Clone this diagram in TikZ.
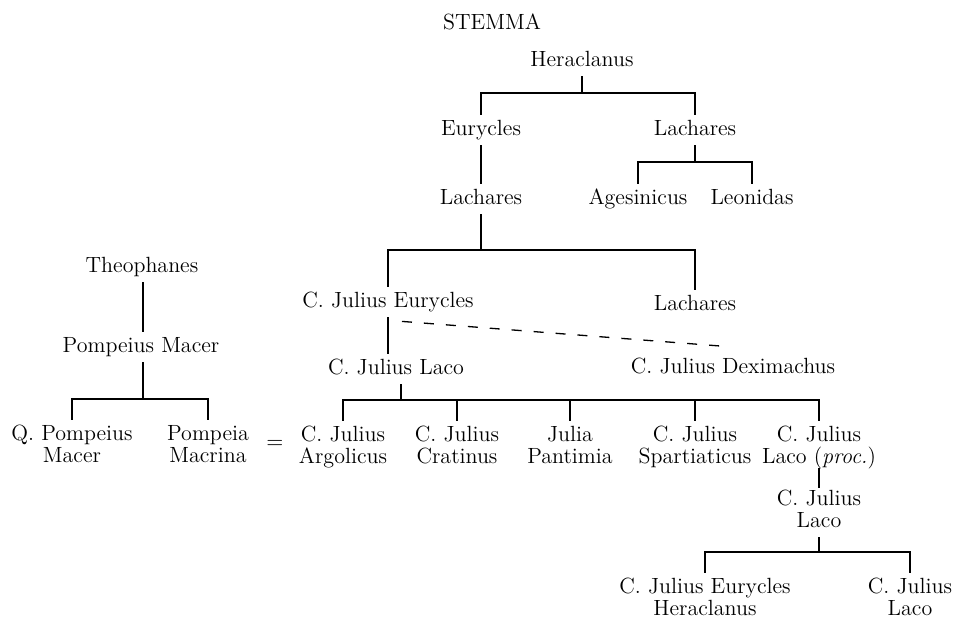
\documentclass[tikz,border=0pt]{standalone}
\usetikzlibrary{calc}
\begin{document}
\begin{tikzpicture}[x=0.5pt, y=-0.5pt,
    every node/.style={font=\fontsize{11}{11}\selectfont, text height=7pt, text depth=2pt, inner sep=3pt, align=center},
    two/.style={text height=18pt},
    link/.style={line width=0.65pt}]
    \useasboundingbox (0,0) rectangle (954,617);
    % Title
    \node (title) at (492,24) {STEMMA};
    % Heraclanus and his sons
    \node (her) at (582,61) {Heraclanus};
    \node (eur) at (481,130) {Eurycles};
    \node (lacA) at (695,130) {Lachares};
    \node (lacB) at (481,199) {Lachares};
    \node (age) at (638,199) {Agesinicus};
    \node (leo) at (752,199) {Leonidas};
    % Next generation
    \node (cje) at (388,302) {C. Julius Eurycles};
    \node (lacC) at (695,305) {Lachares};
    \node (cjl) at (396,369) {C. Julius Laco};
    \node (cjd) at (733,368) {C. Julius Deximachus};
    % Theophanes line
    \node (theo) at (142,267) {Theophanes};
    \node (pmac) at (141,347) {Pompeius Macer};
    \node[two] (qpm) at (72,446) {Q. Pompeius\\Macer};
    \node[two] (pomp) at (208,446) {Pompeia\\Macrina};
    \node (eq) at (275,443) {$=$};
    % Children of C. Julius Laco
    \node[two] (arg) at (343,447) {C. Julius\\Argolicus};
    \node[two] (crat) at (457,447) {C. Julius\\Cratinus};
    \node[two] (jul) at (570,447) {Julia\\Pantimia};
    \node[two] (spar) at (695,447) {C. Julius\\Spartiaticus};
    \node[two] (lproc) at (819,447) {C. Julius\\Laco (\textit{proc.})};
    \node[two] (cjl2) at (819,511) {C. Julius\\Laco};
    \node[two] (cjeh) at (705,599) {C. Julius Eurycles\\Heraclanus};
    \node[two] (cjl3) at (910,599) {C. Julius\\Laco};
    % Bars
    \coordinate (b1) at (582,93);
    \coordinate (b2) at (695,162);
    \coordinate (b3) at (481,250);
    \coordinate (b4) at (143,399);
    \coordinate (b5) at (401,400);
    \coordinate (b6) at (819,552);
    % Connectors
    \draw[link] (her) -- (b1);
    \draw[link] (eur.north) |- (b1) -| (lacA.north);
    \draw[link] (eur) -- (lacB);
    \draw[link] (lacA) -- (b2);
    \draw[link] (age.north) |- (b2) -| (leo.north);
    \draw[link] (lacB) -- (b3);
    \draw[link] (cje.north) |- (b3) -| (lacC.north);
    \draw[link] (cje.south) -- (cje.south |- cjl.north);
    \draw[link, dash pattern=on 5pt off 6pt] ($(cje.south)+(14,4)$) -- ($(cjd.north)+(-5,-6)$);
    \draw[link] (theo.south -| b4) -- (pmac.north -| b4);
    \draw[link] (pmac.south -| b4) -- (b4);
    \draw[link] (qpm.north) |- (b4) -| (pomp.north);
    \draw[link] (b5 |- cjl.south) -- (b5);
    \draw[link] (arg.north) |- (b5) -| (lproc.north);
    \foreach \c in {crat, jul, spar}
        \draw[link] (\c.north) -- (\c.north |- b5);
    \draw[link] ($(lproc.south)+(0,-5)$) -- ($(cjl2.north)+(0,3)$);
    \draw[link] (cjl2) -- (b6);
    \draw[link] (cjeh.north) |- (b6) -| (cjl3.north);
\end{tikzpicture}
\end{document}
